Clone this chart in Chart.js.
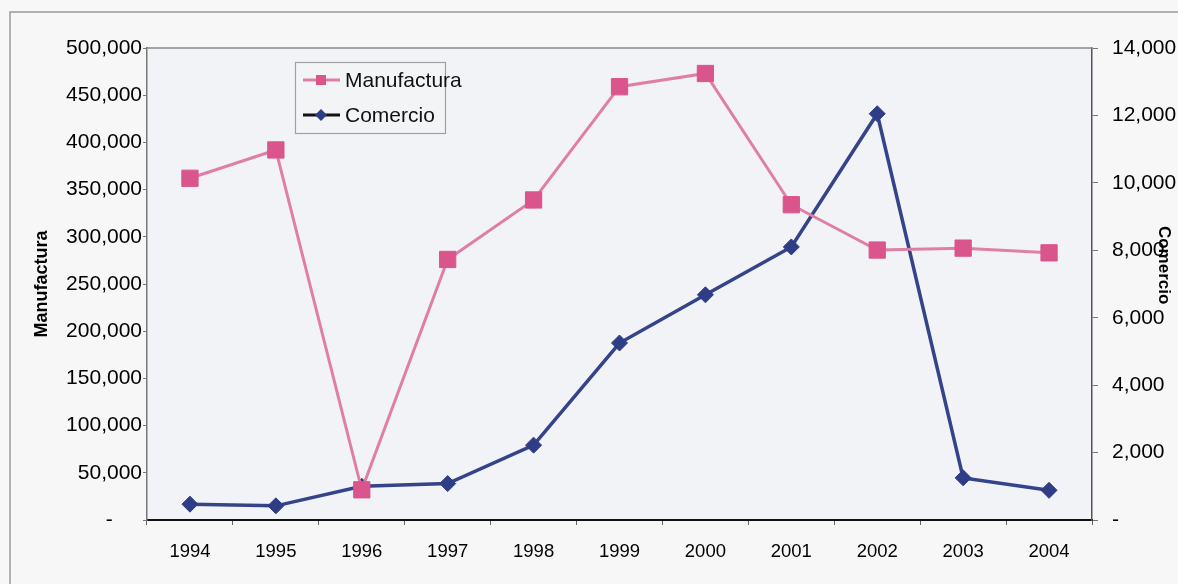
<!DOCTYPE html>
<html><head><meta charset="utf-8">
<script src="https://cdn.jsdelivr.net/npm/chart.js@4"></script>
<style>html,body{margin:0;padding:0;background:#f6f6f6;} canvas{display:block}</style>
</head><body>
<canvas id="c" width="1178" height="584"></canvas>
<script>
const years = ['1994','1995','1996','1997','1998','1999','2000','2001','2002','2003','2004'];
const manufactura = [362000, 392000, 32000, 276000, 339000, 459000, 473000, 334000, 286000, 288000, 283000];
const comercio = [470, 420, 1000, 1080, 2220, 5250, 6680, 8100, 12050, 1250, 880];
const leftTickLabels = ['-\u00a0\u00a0\u00a0\u00a0\u00a0','50,000','100,000','150,000','200,000','250,000','300,000','350,000','400,000','450,000','500,000'];
const rightTickLabels = ['-','2,000','4,000','6,000','8,000','10,000','12,000','14,000'];
const seriesNames = ['Manufactura','Comercio'];
const axisTitles = ['Manufactura','Comercio'];

const FONT = '"Liberation Sans", Arial, sans-serif';

const bgPlugin = {
  id:'bg',
  beforeDraw(chart){
    const c = chart.ctx, a = chart.chartArea;
    c.save();
    c.fillStyle = '#f7f7f7';
    c.fillRect(0,0,chart.width,chart.height);
    c.fillStyle = '#f1f3f6';
    c.fillRect(a.left,a.top,a.right-a.left,a.bottom-a.top);
    c.strokeStyle = '#9a9a9a'; c.lineWidth = 1.5;
    c.beginPath();
    c.moveTo(10, chart.height); c.lineTo(10, 12); c.lineTo(chart.width, 12);
    c.stroke();
    c.restore();
  },
  afterDraw(chart){
    const c = chart.ctx, a = chart.chartArea;
    c.save();
    c.strokeStyle = '#8a8a8a'; c.lineWidth = 1.5;
    c.beginPath(); c.moveTo(a.left, a.top); c.lineTo(a.right, a.top); c.stroke();
    // legend
    const bx = 295, by = 62, bw = 150, bh = 71;
    c.fillStyle = '#f3f4f6';
    c.fillRect(bx,by,bw,bh);
    c.strokeStyle = '#a0a0a0'; c.lineWidth = 1.2;
    c.strokeRect(bx+0.5,by+0.5,bw,bh);
    const rows = [80, 115];
    chart.data.datasets.forEach((ds,i)=>{
      const y = rows[i];
      c.strokeStyle = i===0 ? ds.borderColor : '#111';
      c.lineWidth = 3;
      c.beginPath(); c.moveTo(303,y); c.lineTo(340,y); c.stroke();
      c.fillStyle = ds.pointBackgroundColor;
      c.beginPath();
      if(i===0){ c.rect(321-5,y-5,10,10);} else { c.moveTo(321,y-6); c.lineTo(327,y); c.lineTo(321,y+6); c.lineTo(315,y); c.closePath(); }
      c.fill();
      c.fillStyle = '#111';
      c.font = '21px ' + FONT;
      c.textBaseline = 'middle';
      c.textAlign = 'left';
      c.fillText(seriesNames[i], 345, y+1);
    });
    c.restore();
  }
};

new Chart(document.getElementById('c'), {
  type:'line',
  data:{labels: years, datasets:[
    {label:seriesNames[0], data: manufactura, yAxisID:'y', borderColor:'#e07fa5', borderWidth:3, pointStyle:'rect', pointRadius:11.5, pointBackgroundColor:'#d9558c', pointBorderColor:'#d9558c', pointBorderWidth:1, tension:0},
    {label:seriesNames[1], data: comercio, yAxisID:'y1', borderColor:'#34438a', borderWidth:3.5, pointStyle:'rectRot', pointRadius:8, pointBackgroundColor:'#2f3d86', pointBorderColor:'#2f3d86', pointBorderWidth:1, tension:0}
  ]},
  options:{
    responsive:false, devicePixelRatio:1, animation:false,
    layout:{padding:{left:0,right:0,top:48,bottom:0}},
    plugins:{legend:{display:false}, tooltip:{enabled:false}},
    scales:{
      x:{
        offset:true,
        grid:{display:true, drawOnChartArea:false, offset:true, tickLength:5, color:'#666'},
        border:{color:'#111', width:2},
        ticks:{font:{family:FONT,size:18.5}, color:'#000', padding:16, maxRotation:0, autoSkip:false},
        afterFit(s){ s.height = 64; }
      },
      y:{
        position:'left', min:0, max:500000,
        afterBuildTicks(s){ s.ticks = leftTickLabels.map((l,i)=>({value:i*50000})); },
        ticks:{callback:(v,i)=>leftTickLabels[i], font:{family:FONT,size:21}, color:'#000', padding:1},
        grid:{drawOnChartArea:false, tickLength:4, color:'#777'},
        border:{color:'#777', width:1.5},
        title:{display:true, text:axisTitles[0], font:{family:FONT, size:18, weight:'bold'}, color:'#000', padding:{top:31,bottom:0}},
        afterFit(s){ s.width = 147; }
      },
      y1:{
        position:'right', min:0, max:14000,
        afterBuildTicks(s){ s.ticks = rightTickLabels.map((l,i)=>({value:i*2000})); },
        ticks:{callback:(v,i)=>rightTickLabels[i], font:{family:FONT,size:21}, color:'#000', padding:14},
        grid:{drawOnChartArea:false, tickLength:6, color:'#777'},
        border:{color:'#555', width:1.5},
        title:{display:true, text:axisTitles[1]+'\u00a0'.repeat(8), font:{family:FONT, size:17, weight:'bold'}, color:'#000', padding:{top:4,bottom:0}},
        afterFit(s){ s.width = 86; }
      }
    }
  },
  plugins:[bgPlugin]
});
</script>
</body></html>
